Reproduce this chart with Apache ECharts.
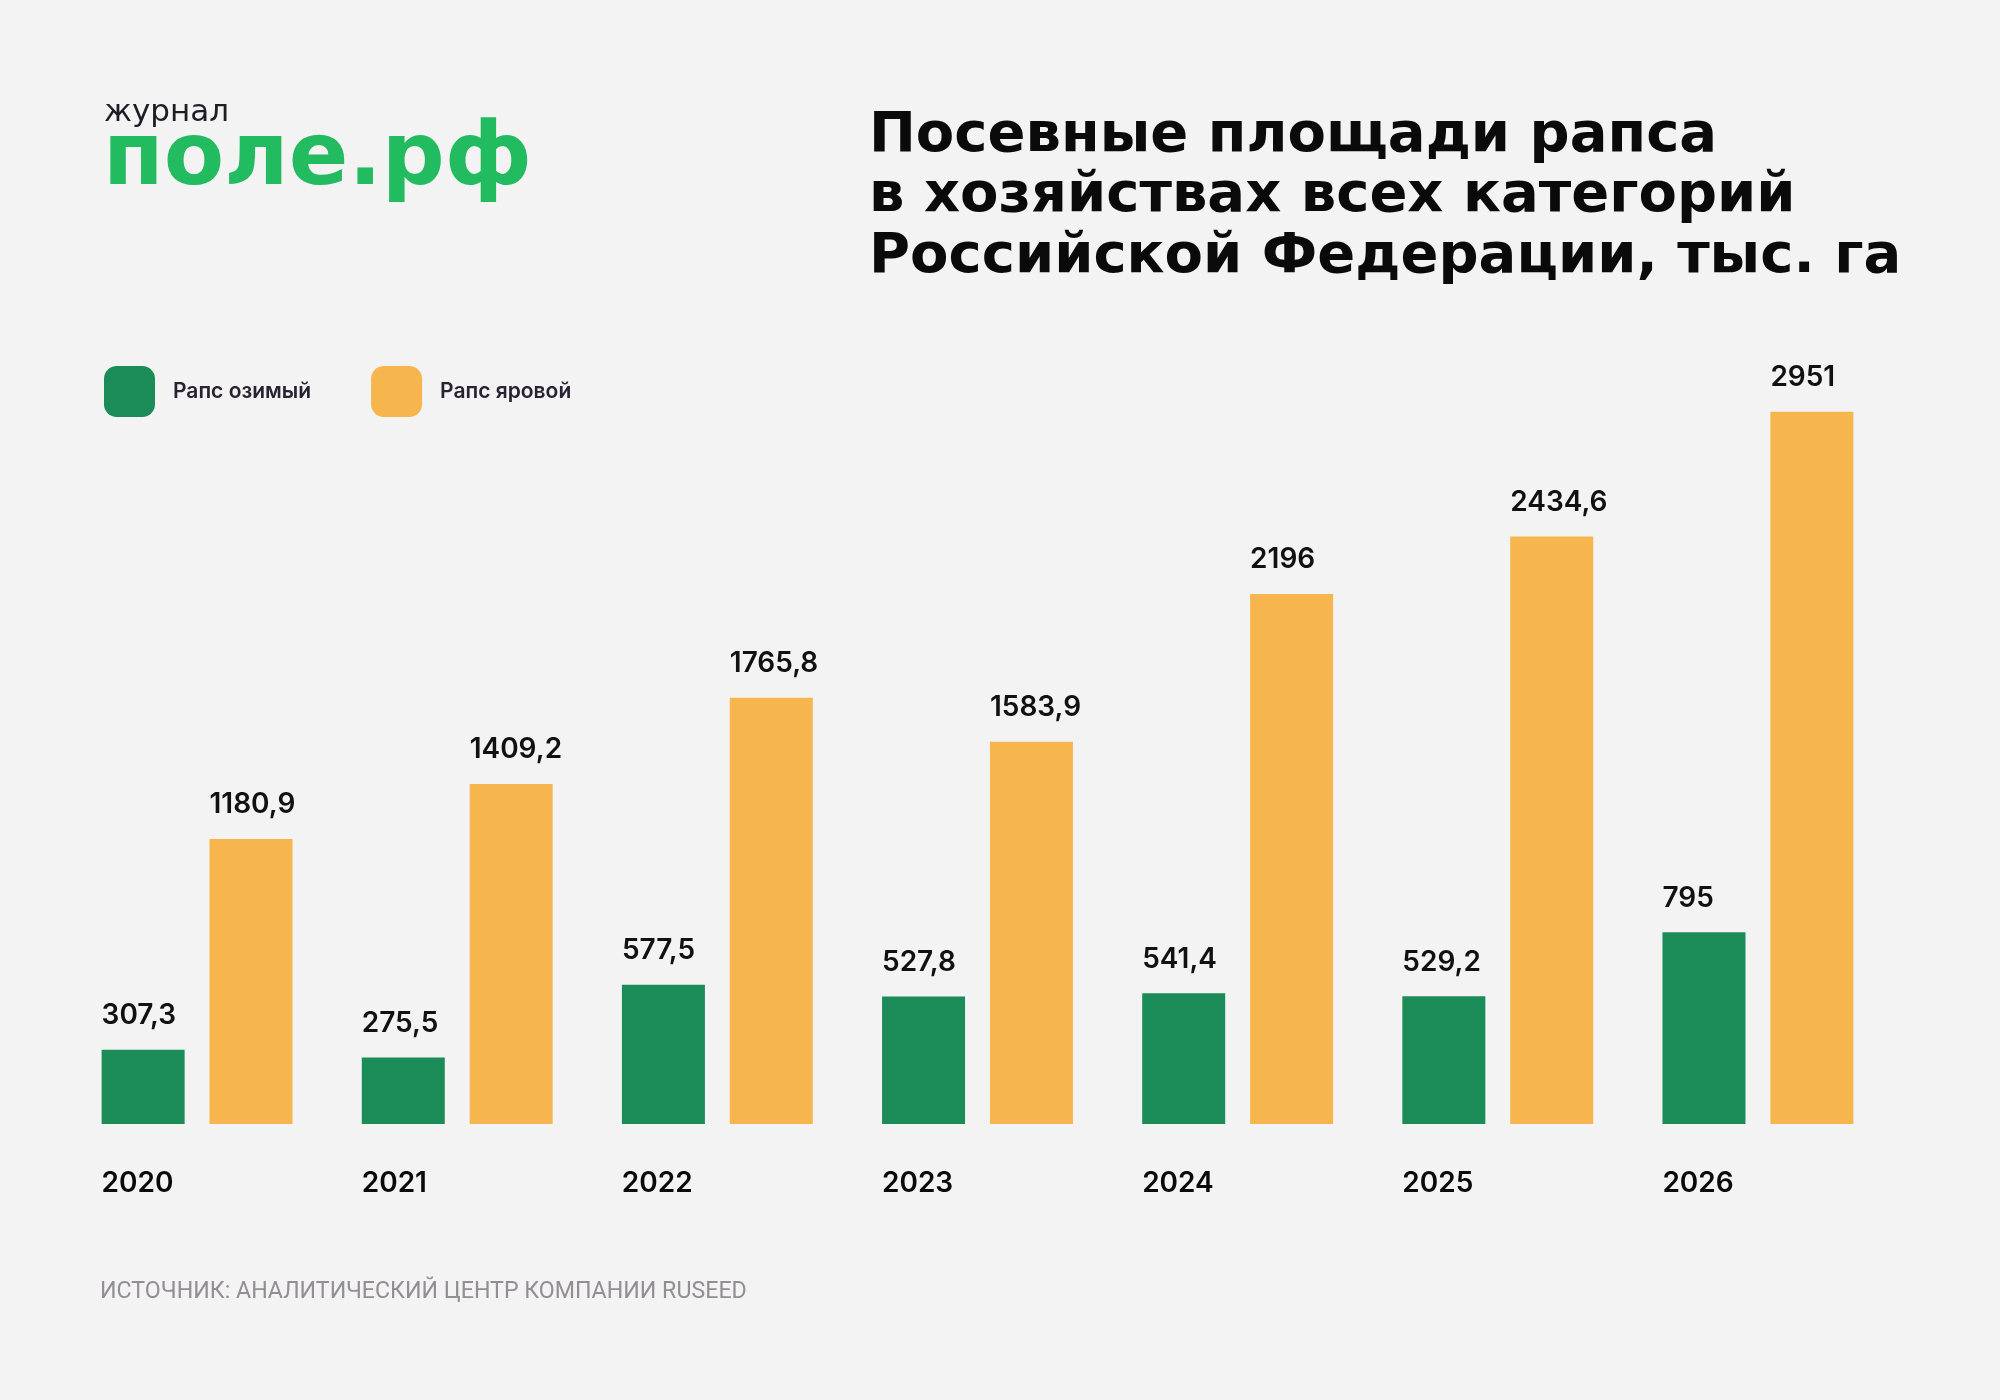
<!DOCTYPE html>
<html>
<head>
<meta charset="utf-8">
<script src="https://cdn.jsdelivr.net/npm/echarts@6/dist/echarts.min.js"></script>
<style>
  html, body { margin: 0; padding: 0; background: #f3f3f3; }
  #chart { width: 2000px; height: 1400px; }
</style>
</head>
<body>
<div id="chart"></div>
<script>
  // данные
  var years = ['2020', '2021', '2022', '2023', '2024', '2025', '2026'];
  var winterRape = [307.3, 275.5, 577.5, 527.8, 541.4, 529.2, 795];
  var springRape = [1180.9, 1409.2, 1765.8, 1583.9, 2196, 2434.6, 2951];
  var seriesNames = ['Рапс озимый', 'Рапс яровой'];

  var GREEN = '#1b8c58';
  var ORANGE = '#f6b64d';
  var BAR_W = 83;

  function fmt(v) {
    return String(v).replace('.', ',');
  }

  var valueLabel = {
    show: true,
    position: 'top',
    align: 'left',
    offset: [-BAR_W / 2, 0],
    distance: 20,
    fontFamily: 'Inter',
    fontWeight: 600,
    fontSize: 28,
    color: '#111111',
    formatter: function (p) { return fmt(p.value); }
  };

  var myChart = echarts.init(document.getElementById('chart'));
  myChart.setOption({
    backgroundColor: '#f3f3f3',
    animation: false,
    title: [
      {
        text: 'журнал',
        left: 99,
        top: 92,
        textStyle: { fontFamily: 'DejaVu Sans', fontWeight: 'normal', fontSize: 31, color: '#1d1d26', lineHeight: 31 }
      },
      {
        text: 'поле.рф',
        left: 98,
        top: 112,
        textStyle: { fontFamily: 'DejaVu Sans', fontWeight: 'bold', fontSize: 88, color: '#22bb5f', lineHeight: 88 }
      },
      {
        text: 'Посевные площади рапса\nв хозяйствах всех категорий\nРоссийской Федерации, тыс. га',
        left: 864,
        top: 101,
        textStyle: { fontFamily: 'DejaVu Sans', fontWeight: 'bold', fontSize: 56, color: '#0a0a0a', lineHeight: 60.5 }
      },
      {
        text: 'ИСТОЧНИК: АНАЛИТИЧЕСКИЙ ЦЕНТР КОМПАНИИ RUSEED',
        left: 95,
        top: 1274,
        textStyle: { fontFamily: 'Roboto', fontWeight: 'normal', fontSize: 23.2, color: '#928e94', lineHeight: 26 }
      }
    ],
    legend: {
      left: 99,
      top: 361,
      itemWidth: 51,
      itemHeight: 51,
      itemGap: 60,
      icon: 'roundRect',
      textStyle: {
        fontFamily: 'Inter',
        fontWeight: 600,
        fontSize: 21,
        color: '#2a2230',
        padding: [0, 0, 0, 13]
      },
      data: seriesNames
    },
    grid: {
      left: 67,
      right: 112,
      top: 400,
      bottom: 276,
      containLabel: false
    },
    xAxis: {
      type: 'category',
      data: years,
      axisLine: { show: false },
      axisTick: { show: false },
      axisLabel: {
        margin: 46,
        formatter: function (v) { return '{y|' + v + '}'; },
        rich: {
          y: {
            width: 2 * BAR_W + 25,
            align: 'left',
            fontFamily: 'Inter',
            fontWeight: 600,
            fontSize: 28,
            color: '#0a0a0a'
          }
        }
      }
    },
    yAxis: {
      type: 'value',
      min: 0,
      max: 3000,
      show: false,
      splitLine: { show: false }
    },
    series: [
      {
        name: seriesNames[0],
        type: 'bar',
        barWidth: BAR_W,
        barGap: '30%',
        itemStyle: { color: GREEN },
        label: valueLabel,
        data: winterRape
      },
      {
        name: seriesNames[1],
        type: 'bar',
        barWidth: BAR_W,
        itemStyle: { color: ORANGE },
        label: valueLabel,
        data: springRape
      }
    ]
  });
</script>
</body>
</html>
